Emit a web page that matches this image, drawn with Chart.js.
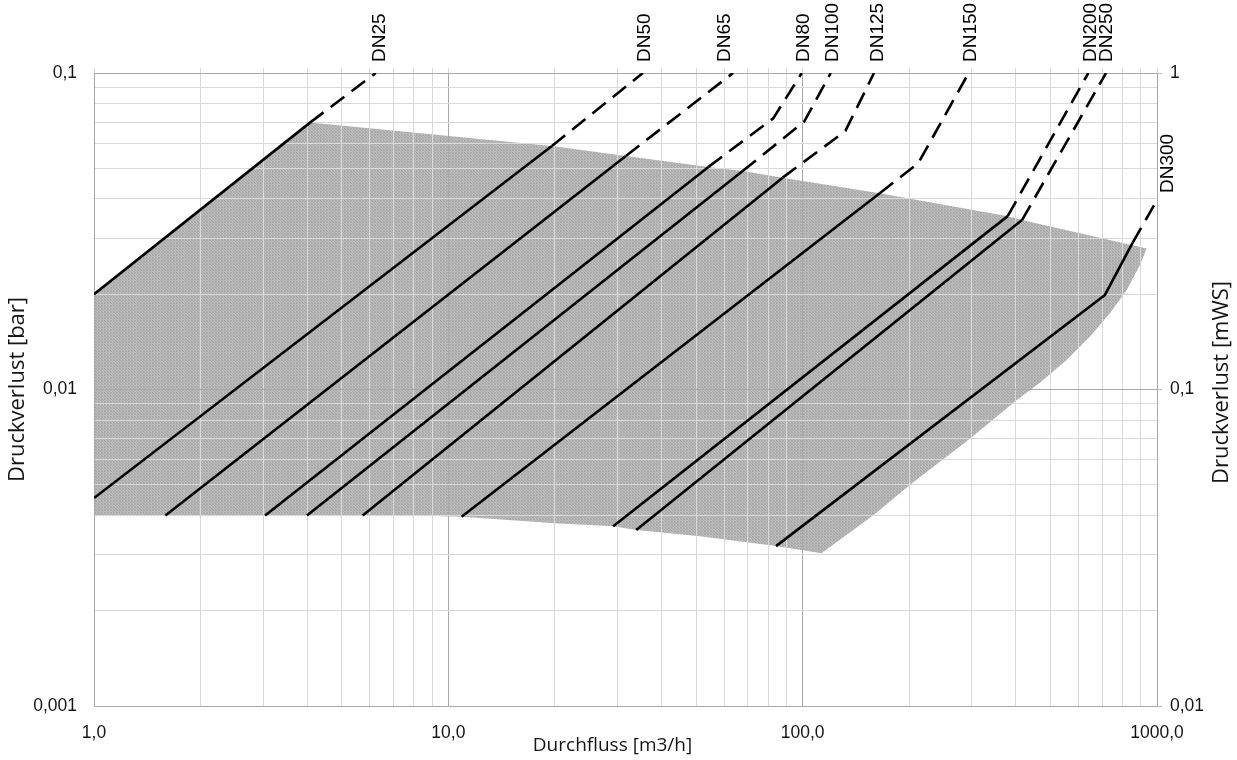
<!DOCTYPE html>
<html><head><meta charset="utf-8">
<script src="https://cdn.jsdelivr.net/npm/chart.js@4.4.0/dist/chart.umd.min.js"></script>
<style>html,body{margin:0;padding:0;background:#fff;}canvas{display:block;}</style>
</head><body>
<canvas id="c" width="1237" height="760"></canvas>
<script>
// ---- data ----
const dnNames = ['DN25','DN50','DN65','DN80','DN100','DN125','DN150','DN200','DN250','DN300'];
const dnFlow = [
  [1, 4.07, 6.24],
  [1, 19.6, 35.4],
  [1.59, 31.7, 63.6],
  [3.04, 54.2, 82.6, 99.4],
  [3.99, 67.7, 101, 120],
  [5.73, 87.8, 132, 159],
  [10.9, 165, 212, 294],
  [29.2, 379, 640],
  [33.9, 416, 718],
  [84.1, 713, 854, 1000]
];
const dnLoss = [
  [0.02, 0.0697, 0.1],
  [0.00454, 0.0588, 0.1],
  [0.004, 0.0547, 0.1],
  [0.004, 0.0505, 0.0719, 0.1],
  [0.004, 0.049, 0.0702, 0.1],
  [0.004, 0.0467, 0.0656, 0.1],
  [0.00396, 0.0417, 0.0519, 0.1],
  [0.0037, 0.0353, 0.1],
  [0.0036, 0.0343, 0.1],
  [0.0032, 0.0199, 0.0291, 0.0397]
];
const dnSolidSegments = [1,1,1,1,1,1,1,1,1,2];
const regionUpperFlow = [1, 4.07, 19.6, 31.7, 54.2, 67.7, 87.8, 165, 379, 416, 935];
const regionUpperLoss = [0.02, 0.0697, 0.0588, 0.0547, 0.0505, 0.049, 0.0467, 0.0417, 0.0353, 0.0343, 0.0279];
const regionLowerFlow = [1, 8, 10.9, 20, 29.2, 33.9, 51.3, 84.1, 113, 158, 201, 297, 402, 467, 556, 647, 737, 821, 895, 935];
const regionLowerLoss = [0.004, 0.004, 0.00396, 0.00378, 0.0037, 0.0036, 0.00344, 0.0032, 0.00304, 0.0040, 0.0050, 0.0070, 0.00926, 0.0105, 0.0124, 0.0147, 0.01745, 0.0206, 0.0247, 0.0279];
const xMajorTicks = [1, 10, 100, 1000];
const xTickLabels = ['1,0', '10,0', '100,0', '1000,0'];
const yMajorTicks = [0.001, 0.01, 0.1];
const yTickLabels = ['0,001', '0,01', '0,1'];
const y2MajorTicks = [0.01, 0.1, 1];
const y2TickLabels = ['0,01', '0,1', '1'];

// ---- styling ----
const MINOR = '#d9d9d9', MAJOR = '#a8a8a8', BORDER = '#bdbdbd', TEXT = '#151515';
const dnLabelOffset = [[4,-11],[2,-11],[-8,-11],[2,-11],[2,-11],[4,-11],[2,-11],[2,-11],[1,-11],[11,-7]];

function withMinors(majors) {
  const out = [];
  for (let i = 0; i < majors.length - 1; i++) {
    for (let m = 1; m <= 9; m++) out.push(majors[i] * m);
  }
  out.push(majors[majors.length - 1]);
  return out;
}
const xGrid = withMinors(xMajorTicks);
const yGrid = withMinors(yMajorTicks);
function majorIndex(v, majors) {
  return majors.findIndex(m => Math.abs(Math.log10(v) - Math.log10(m)) < 1e-6);
}
function gridColor(majors) {
  return ctx => (ctx.tick && majorIndex(ctx.tick.value, majors) >= 0) ? MAJOR : MINOR;
}
function zip(a, b) { return a.map((v, i) => ({x: v, y: b[i]})); }

// fill pattern (fine dotted texture)
const texture = [
  [0xa6, 0xbc, 0xb0],
  [0xbe, 0xaa, 0xb8],
  [0xb2, 0xc0, 0xa4]
];
const pc = document.createElement('canvas');
pc.width = 3; pc.height = 3;
const pctx = pc.getContext('2d');
texture.forEach((row, yy) => row.forEach((g, xx) => {
  pctx.fillStyle = 'rgb(' + g + ',' + g + ',' + g + ')';
  pctx.fillRect(xx, yy, 1, 1);
}));
const fillPattern = document.getElementById('c').getContext('2d').createPattern(pc, 'repeat');

const datasets = [
  {label: 'regionUpper', data: zip(regionUpperFlow, regionUpperLoss), borderWidth: 0, borderColor: 'rgba(0,0,0,0)',
   backgroundColor: fillPattern, fill: '+1', pointRadius: 0, order: 10},
  {label: 'regionLower', data: zip(regionLowerFlow, regionLowerLoss), borderWidth: 0, borderColor: 'rgba(0,0,0,0)',
   fill: false, pointRadius: 0, order: 10}
];
dnNames.forEach((n, i) => {
  const solid = dnSolidSegments[i];
  datasets.push({
    label: n, data: zip(dnFlow[i], dnLoss[i]), borderColor: '#000', borderWidth: 2.6,
    pointRadius: 0, fill: false, order: 0, borderCapStyle: 'butt', borderJoinStyle: 'round',
    segment: {borderDash: ctx => ctx.p0DataIndex >= solid ? [17, 9] : undefined}
  });
});

const gridOverFill = {
  id: 'gridOverFill',
  afterDatasetDraw(chart, args) {
    if (args.index !== 0) return;
    const ca = chart.chartArea;
    ['x', 'y'].forEach(k => chart.scales[k].drawGrid(ca));
  }
};
const dnLabelPlugin = {
  id: 'dnLabels',
  afterDatasetsDraw(chart) {
    const ctx = chart.ctx;
    ctx.save();
    ctx.font = '19px "Liberation Sans", Arial, sans-serif';
    ctx.fillStyle = '#000';
    ctx.textBaseline = 'middle';
    ctx.textAlign = 'left';
    dnNames.forEach((name, i) => {
      const meta = chart.getDatasetMeta(i + 2);
      const pt = meta.data[meta.data.length - 1];
      const off = dnLabelOffset[i];
      ctx.save();
      ctx.translate(pt.x + off[0], pt.y + off[1]);
      ctx.rotate(-Math.PI / 2);
      ctx.fillText(name, 0, 0);
      ctx.restore();
    });
    ctx.restore();
  }
};
const titlesPlugin = {
  id: 'extraTitles',
  afterDraw(chart) {
    const ctx = chart.ctx, ca = chart.chartArea;
    ctx.save();
    ctx.fillStyle = TEXT;
    ctx.textAlign = 'center';
    ctx.textBaseline = 'middle';
    ctx.font = '19px "Open Sans", sans-serif';
    ctx.fillText('Durchfluss [m3/h]', (ca.left + ca.right) / 2 - 13, chart.height - 14);
    ctx.font = '22px "Open Sans", sans-serif';
    ctx.translate(ca.right + 65, (ca.top + ca.bottom) / 2 - 7);
    ctx.rotate(-Math.PI / 2);
    ctx.fillText('Druckverlust [mWS]', 0, 0);
    ctx.restore();
  }
};

const tickFont = {family: '"Liberation Sans", Arial, sans-serif', size: 17.5, lineHeight: 1.2};

new Chart(document.getElementById('c'), {
  type: 'line',
  data: {datasets},
  options: {
    responsive: false,
    animation: false,
    events: [],
    layout: {padding: 0},
    plugins: {legend: {display: false}, tooltip: {enabled: false}},
    scales: {
      x: {
        type: 'logarithmic', position: 'bottom', min: 1, max: 1000,
        afterBuildTicks: s => { s.ticks = xGrid.map(v => ({value: v})); },
        afterFit: s => { s.height = 54; },
        ticks: {autoSkip: false, maxRotation: 0, minRotation: 0, padding: 17, font: tickFont, color: TEXT,
          callback: v => { const k = majorIndex(v, xMajorTicks); return k >= 0 ? xTickLabels[k] : ''; }},
        grid: {color: gridColor(xMajorTicks), drawTicks: false, lineWidth: 1},
        border: {color: BORDER, width: 1}
      },
      x2: {
        type: 'logarithmic', position: 'top', min: 1, max: 1000,
        afterBuildTicks: s => { s.ticks = xGrid.map(v => ({value: v})); },
        afterFit: s => { s.height = 73; },
        ticks: {display: false},
        grid: {drawOnChartArea: false, drawTicks: true, tickLength: 5, color: MINOR},
        border: {color: BORDER, width: 1}
      },
      y: {
        type: 'logarithmic', position: 'left', min: 0.001, max: 0.1,
        afterBuildTicks: s => { s.ticks = yGrid.map(v => ({value: v})); },
        afterFit: s => { s.width = 94; },
        ticks: {autoSkip: false, padding: 17, font: tickFont, color: TEXT,
          callback: v => { const k = majorIndex(v, yMajorTicks); return k >= 0 ? yTickLabels[k] : ''; }},
        grid: {color: gridColor(yMajorTicks), drawTicks: false, lineWidth: 1},
        border: {color: BORDER, width: 1},
        title: {display: true, text: 'Druckverlust [bar]', color: TEXT,
          font: {family: '"Open Sans", sans-serif', size: 22, lineHeight: 1.2}, padding: {top: 5, bottom: 0}}
      },
      y2: {
        type: 'logarithmic', position: 'right', min: 0.01, max: 1,
        afterBuildTicks: s => { s.ticks = y2MajorTicks.map(v => ({value: v})); },
        afterFit: s => { s.width = 80; },
        ticks: {autoSkip: false, padding: 8, font: tickFont, color: TEXT,
          callback: v => { const k = majorIndex(v, y2MajorTicks); return k >= 0 ? y2TickLabels[k] : ''; }},
        grid: {drawOnChartArea: false, drawTicks: true, tickLength: 5, color: BORDER},
        border: {color: BORDER, width: 1}
      }
    }
  },
  plugins: [gridOverFill, dnLabelPlugin, titlesPlugin]
});
</script>
</body></html>
